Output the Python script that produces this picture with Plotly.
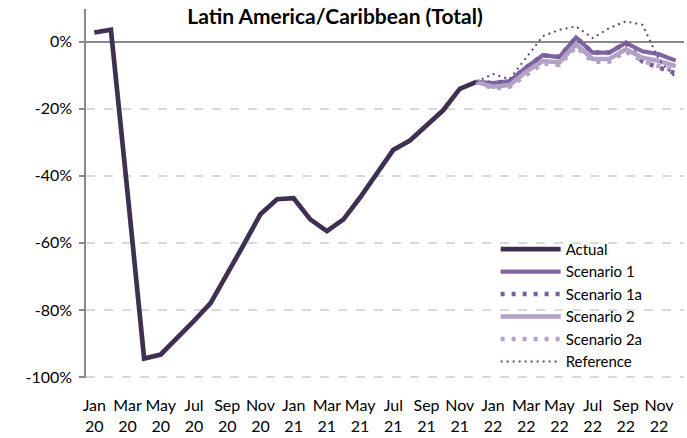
import plotly.graph_objects as go

# Monthly change vs. 2019, Latin America/Caribbean (Total), Jan 2020 - Dec 2022
months = [f"{m} {y}" for y in (2020, 2021, 2022)
          for m in ("Jan", "Feb", "Mar", "Apr", "May", "Jun",
                    "Jul", "Aug", "Sep", "Oct", "Nov", "Dec")]

tick_months = ["Jan", "Mar", "May", "Jul", "Sep", "Nov"] * 3
tick_years = ["20"] * 6 + ["21"] * 6 + ["22"] * 6

# Actual: Jan 2020 - Dec 2021
actual = [2.7, 3.5, -45.0, -94.5, -93.3, -88.5, -83.3, -78.0, -69.5, -60.5, -51.5, -47.0,
          -46.7, -53.0, -56.5, -53.0, -46.5, -39.5, -32.3, -29.5, -25.2, -20.5, -14.1, -12.0]

# Projections: Dec 2021 - Dec 2022 (start at the last actual month)
scenario_1 = [-12.0, -12.4, -11.8, -7.7, -4.1, -4.6, 1.2, -3.3, -3.3, -0.4, -2.9, -3.8, -5.7]
scenario_1a = [-12.0, -12.4, -11.8, -7.7, -4.1, -4.6, 1.2, -3.3, -3.3, -0.4, -6.0, -7.7, -9.5]
scenario_2 = [-12.0, -13.5, -13.0, -9.0, -5.8, -6.2, -0.8, -5.2, -5.2, -2.3, -4.8, -5.8, -7.3]
scenario_2a = [-12.0, -14.0, -13.5, -9.8, -6.5, -7.0, -1.5, -6.0, -6.0, -3.0, -5.8, -7.3, -8.7]
reference = [-12.0, -9.7, -11.2, -4.8, 1.6, 3.5, 4.5, 1.0, 4.0, 6.0, 5.0, -5.5, -10.7]

y_ticks = [0, -20, -40, -60, -80, -100]
y_range = [-100.3, 9.7]

FONT = "Lato"
GRAY = "#898989"

x_all = list(range(len(months)))
x_actual = x_all[:len(actual)]
x_proj = x_all[len(actual) - 1:]
x_range = [-0.5, len(months) - 0.5]

series = [
    ("Actual", x_actual, actual, dict(color="#3F3052", width=4.7)),
    ("Scenario 1", x_proj, scenario_1, dict(color="#8064A2", width=4.2)),
    ("Scenario 1a", x_proj, scenario_1a, dict(color="#7A5E9C", width=4.5, dash="4px,7px")),
    ("Scenario 2", x_proj, scenario_2, dict(color="#B3A2C7", width=4.5)),
    ("Scenario 2a", x_proj, scenario_2a, dict(color="#B3A2C7", width=4.5, dash="4px,7px")),
    ("Reference", x_proj, reference, dict(color="#5F497A", width=2, dash="2px,4px")),
]

fig = go.Figure()
for name, xs, ys, line in series:
    fig.add_trace(go.Scatter(
        x=xs, y=ys, name=name, mode="lines", line=line,
        customdata=[months[i] for i in xs],
        hovertemplate="%{customdata}: %{y:.1f}%<extra>" + name + "</extra>",
    ))

# the 0% category axis (with month ticks) sits on a helper subplot whose top edge is y = 0
zero_pos = (0 - y_range[0]) / (y_range[1] - y_range[0])

fig.update_layout(
    width=687, height=438, autosize=False,
    margin=dict(l=86, r=3, t=9, b=56),
    paper_bgcolor="white", plot_bgcolor="rgba(0,0,0,0)",
    font=dict(family=FONT, size=16, color="#000000"),
    title=dict(text="<b>Latin America/Caribbean (Total)</b>",
               xref="container", yref="container",
               x=335 / 687, xanchor="center", y=1 - 17 / 438, yanchor="middle",
               font=dict(family=FONT, size=21, color="#000000")),
    xaxis=dict(
        range=x_range, anchor="y",
        showline=False, showgrid=False, zeroline=False, ticks="",
        tickmode="array",
        tickvals=x_all[::2],
        ticktext=[f"{m}<br>{y}" for m, y in zip(tick_months, tick_years)],
        ticklabelstandoff=16,
        tickfont=dict(family=FONT, size=16, color="#000000"),
    ),
    yaxis=dict(
        range=y_range, anchor="x",
        tickmode="array", tickvals=y_ticks,
        ticktext=[f"{v}%" for v in y_ticks],
        showline=True, linecolor=GRAY, linewidth=1.5,
        ticks="outside", ticklen=5, tickwidth=1.5, tickcolor=GRAY,
        ticklabelstandoff=4,
        showgrid=True, gridcolor="#D9D9D9", gridwidth=1.5, griddash="dash",
        zeroline=True, zerolinecolor=GRAY, zerolinewidth=1.5,
        tickfont=dict(family=FONT, size=16, color="#000000"),
    ),
    xaxis2=dict(
        range=x_range, anchor="y2", side="top",
        showline=True, linecolor=GRAY, linewidth=1.5,
        showgrid=False, zeroline=False, showticklabels=False,
        tickmode="linear", tick0=-0.5, dtick=1,
        ticks="inside", ticklen=5, tickwidth=1.5, tickcolor=GRAY,
    ),
    yaxis2=dict(
        domain=[0, zero_pos], anchor="x2", range=[0, 1],
        showline=False, showgrid=False, zeroline=False,
        showticklabels=False, ticks="",
    ),
    legend=dict(
        x=0.685, xanchor="left", y=0.197, yanchor="middle",
        bgcolor="rgba(0,0,0,0)", borderwidth=0,
        itemwidth=60,
        font=dict(family=FONT, size=15, color="#000000"),
        tracegroupgap=0,
    ),
    showlegend=True,
)

fig.write_html("out.html")
